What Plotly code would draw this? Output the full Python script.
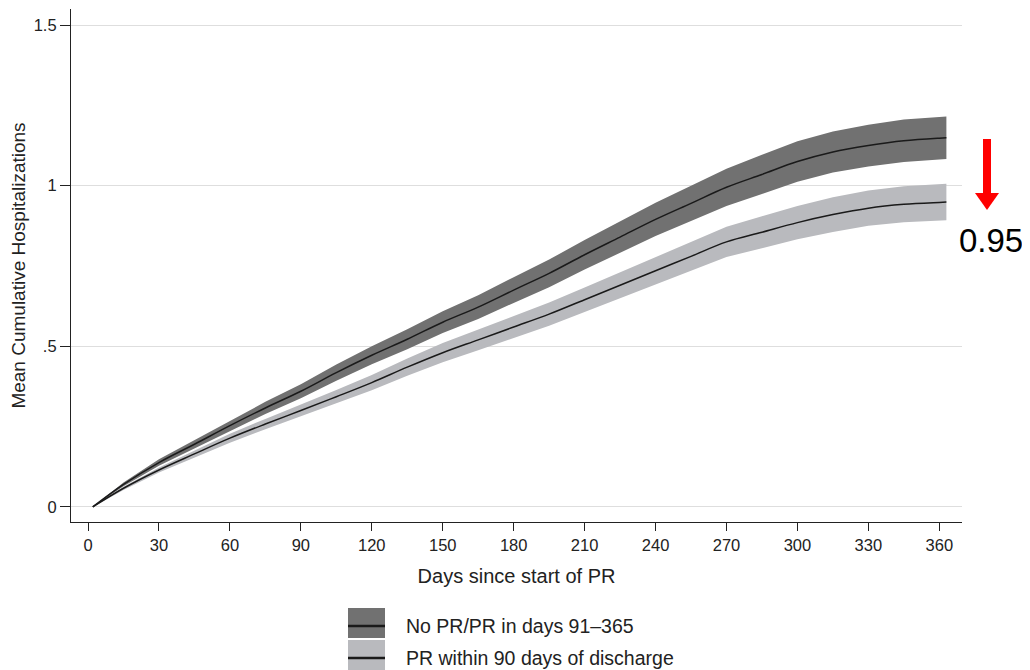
import plotly.graph_objects as go

days = [2, 15, 30, 45, 60, 75, 90, 105, 120, 135, 150, 165, 180, 195, 210, 225,
        240, 255, 270, 285, 300, 315, 330, 345, 360, 363]
no_pr_mean = [0, 0.07, 0.138, 0.195, 0.253, 0.308, 0.36, 0.418, 0.472, 0.522, 0.575, 0.622,
              0.675, 0.727, 0.785, 0.84, 0.895, 0.945, 0.995, 1.035, 1.075, 1.105,
              1.125, 1.14, 1.148, 1.149]
no_pr_half = [0, 0.006, 0.01, 0.013, 0.016, 0.019, 0.022, 0.025, 0.028, 0.031, 0.034,
              0.037, 0.04, 0.043, 0.046, 0.049, 0.052, 0.055, 0.058, 0.061, 0.063,
              0.064, 0.065, 0.066, 0.066, 0.066]
pr90_mean = [0, 0.058, 0.115, 0.165, 0.214, 0.258, 0.3, 0.343, 0.387, 0.435, 0.48, 0.52,
             0.56, 0.6, 0.645, 0.69, 0.735, 0.78, 0.825, 0.855, 0.885, 0.91, 0.93,
             0.942, 0.948, 0.949]
pr90_half = [0, 0.005, 0.008, 0.011, 0.014, 0.016, 0.018, 0.021, 0.024, 0.027, 0.03,
             0.032, 0.034, 0.036, 0.038, 0.04, 0.042, 0.044, 0.047, 0.05, 0.052,
             0.054, 0.055, 0.056, 0.057, 0.057]

legend_labels = ["No PR/PR in days 91\u2013365", "PR within 90 days of discharge"]
x_ticks = list(range(0, 361, 30))
y_ticks = [0, 0.5, 1, 1.5]
y_tick_text = ["0", ".5", "1", "1.5"]
annot_value = "0.95"

DARK = "#717171"
LIGHT = "#b9babe"
LINE = "#1a1a1a"
NARROW = "Liberation Sans Narrow, Liberation Sans, Arial"
REG = "Liberation Sans, Arial"

fig = go.Figure()

for mean, half, col in [(no_pr_mean, no_pr_half, DARK), (pr90_mean, pr90_half, LIGHT)]:
    lo = [m - h for m, h in zip(mean, half)]
    hi = [m + h for m, h in zip(mean, half)]
    fig.add_trace(go.Scatter(x=days, y=lo, mode="lines", line=dict(width=0, color=col),
                             showlegend=False, hoverinfo="skip"))
    fig.add_trace(go.Scatter(x=days, y=hi, mode="lines", line=dict(width=0, color=col),
                             fill="tonexty", fillcolor=col, showlegend=False, hoverinfo="skip"))

for mean in [no_pr_mean, pr90_mean]:
    fig.add_trace(go.Scatter(x=days, y=mean, mode="lines", line=dict(width=1.5, color=LINE),
                             showlegend=False, line_shape="spline"))

# page offset (body margin of the html page)
OFF = 8
FW, FH = 1030 - OFF, 670 - OFF
# plot area geometry in page pixels
L, R, T, B = 71, 962, 9, 522
W, H = R - L, B - T

def px(x):
    return (x - L) / W

def py(y):
    return (B - y) / H

shapes = []
annotations = []
# manual legend
for i, (lab, col) in enumerate(zip(legend_labels, [DARK, LIGHT])):
    y0 = 608 + i * 32
    shapes.append(dict(type="rect", xref="paper", yref="paper",
                       x0=px(348), x1=px(385), y0=py(y0), y1=py(y0 + 30),
                       fillcolor=col, line=dict(width=0)))
    shapes.append(dict(type="line", xref="paper", yref="paper",
                       x0=px(348), x1=px(385), y0=py(y0 + 18), y1=py(y0 + 18),
                       line=dict(color=LINE, width=2.5)))
    annotations.append(dict(xref="paper", yref="paper", x=px(404), y=py(y0 + 18),
                            text=lab, showarrow=False, xanchor="left", yanchor="middle",
                            font=dict(family=REG, size=19.5, color="#222")))

# red arrow
shapes.append(dict(type="rect", xref="paper", yref="paper",
                   x0=px(983), x1=px(991), y0=py(139), y1=py(194),
                   fillcolor="#ff0000", line=dict(width=0)))
shapes.append(dict(type="path", xref="paper", yref="paper",
                   path=f"M {px(975)} {py(193)} L {px(999)} {py(193)} L {px(987)} {py(210)} Z",
                   fillcolor="#ff0000", line=dict(width=0)))
annotations.append(dict(xref="paper", yref="paper", x=px(991), y=py(240), text=annot_value,
                        showarrow=False, xanchor="center", yanchor="middle",
                        font=dict(family=REG, size=33, color="black")))

fig.update_layout(
    width=FW, height=FH,
    margin=dict(l=L - OFF, r=FW - (R - OFF), t=T - OFF, b=FH - (B - OFF)),
    paper_bgcolor="white", plot_bgcolor="white",
    showlegend=False,
    shapes=shapes, annotations=annotations,
    font=dict(family=NARROW, color="#222"),
)
fig.update_xaxes(range=[-7.2, 369.6], tickvals=x_ticks, ticks="outside", ticklen=8,
                 tickcolor="#222", showline=True, linecolor="#222", linewidth=1.2,
                 showgrid=False, zeroline=False,
                 tickfont=dict(size=16.5, family=NARROW),
                 title=dict(text="Days since start of PR", standoff=16,
                            font=dict(size=20, family=REG)))
fig.update_yaxes(range=[-0.047, 1.55], tickvals=y_ticks, ticktext=y_tick_text,
                 ticks="outside", ticklen=10, tickcolor="#222", showline=True,
                 linecolor="#222", linewidth=1.2, showgrid=True, gridcolor="#dedede",
                 gridwidth=1, zeroline=False,
                 tickfont=dict(size=16.5, family=NARROW),
                 title=dict(text="Mean Cumulative Hospitalizations", standoff=5,
                            font=dict(size=19, family=REG)))

fig.write_html("out.html")
